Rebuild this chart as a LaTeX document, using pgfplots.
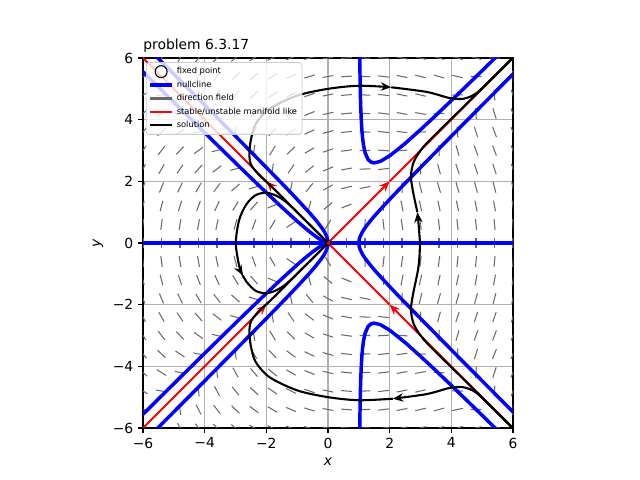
\documentclass[border=0pt]{standalone}
\usepackage{fontspec}
\setmainfont{DejaVu Sans}
\usepackage{pgfplots}
\usepackage{pgfplotstable}
\pgfplotsset{compat=1.18}
\usetikzlibrary{arrows.meta}
\definecolor{fieldgray}{RGB}{105,105,105}
\definecolor{gridgray}{RGB}{176,176,176}
\definecolor{legframe}{RGB}{204,204,204}
\tikzset{tip/.style={-{Stealth[length=7.5pt,width=6pt]}}}

% direction field: grid point (0.6 i, 0.6 j), direction (U,V); rows for j>=0, mirrored for j<0 as (-U,V)
\pgfplotstableread{
i j U V
-10 0 0 -3000
-10 1 -347 -2965
-10 2 -676 -2860
-10 3 -969 -2685
-10 4 -1208 -2440
-10 5 -1375 -2125
-10 6 -1452 -1740
-10 7 -1421 -1285
-10 8 -1264 -760
-10 9 -963 -165
-10 10 -500 500
-9 0 0 -2187
-9 1 -285 -2155
-9 2 -552 -2059
-9 3 -783 -1899
-9 4 -960 -1675
-9 5 -1065 -1387
-9 6 -1080 -1035
-9 7 -987 -619
-9 8 -768 -139
-9 9 -405 405
-9 10 120 1013
-8 0 0 -1536
-8 1 -229 -1507
-8 2 -440 -1420
-8 3 -615 -1275
-8 4 -736 -1072
-8 5 -785 -811
-8 6 -744 -492
-8 7 -595 -115
-8 8 -320 320
-8 9 99 813
-8 10 680 1364
-7 0 0 -1029
-7 1 -179 -1003
-7 2 -340 -925
-7 3 -465 -795
-7 4 -536 -613
-7 5 -535 -379
-7 6 -444 -93
-7 7 -245 245
-7 8 80 635
-7 9 549 1077
-7 10 1180 1571
-6 0 0 -648
-6 1 -135 -625
-6 2 -252 -556
-6 3 -333 -441
-6 4 -360 -280
-6 5 -315 -73
-6 6 -180 180
-6 7 63 479
-6 8 432 824
-6 9 945 1215
-6 10 1620 1652
-5 0 0 -375
-5 1 -97 -355
-5 2 -176 -295
-5 3 -219 -195
-5 4 -208 -55
-5 5 -125 125
-5 6 48 345
-5 7 329 605
-5 8 736 905
-5 9 1287 1245
-5 10 2000 1625
-4 0 0 -192
-4 1 -65 -175
-4 2 -112 -124
-4 3 -123 -39
-4 4 -80 80
-4 5 35 233
-4 6 240 420
-4 7 553 641
-4 8 992 896
-4 9 1575 1185
-4 10 2320 1508
-3 0 0 -81
-3 1 -39 -67
-3 2 -60 -25
-3 3 -45 45
-3 4 24 143
-3 5 165 269
-3 6 396 423
-3 7 735 605
-3 8 1200 815
-3 9 1809 1053
-3 10 2580 1319
-2 0 0 -24
-2 1 -19 -13
-2 2 -20 20
-2 3 15 75
-2 4 104 152
-2 5 265 251
-2 6 516 372
-2 7 875 515
-2 8 1360 680
-2 9 1989 867
-2 10 2780 1076
-1 0 0 -3
-1 1 -5 5
-1 2 8 29
-1 3 57 69
-1 4 160 125
-1 5 335 197
-1 6 600 285
-1 7 973 389
-1 8 1472 509
-1 9 2115 645
-1 10 2920 797
0 1 3 5
0 2 24 20
0 3 81 45
0 4 192 80
0 5 375 125
0 6 648 180
0 7 1029 245
0 8 1536 320
0 9 2187 405
0 10 3000 500
1 0 0 3
1 1 5 5
1 2 28 11
1 3 87 21
1 4 200 35
1 5 385 53
1 6 660 75
1 7 1043 101
1 8 1552 131
1 9 2205 165
1 10 3020 203
2 0 0 24
2 1 1 23
2 2 20 20
2 3 75 15
2 4 184 8
2 5 365 -1
2 6 636 -12
2 7 1015 -25
2 8 1520 -40
2 9 2169 -57
2 10 2980 -76
3 0 0 81
3 1 -9 77
3 2 0 65
3 3 45 45
3 4 144 17
3 5 315 -19
3 6 576 -63
3 7 945 -115
3 8 1440 -175
3 9 2079 -243
3 10 2880 -319
4 0 0 192
4 1 -25 185
4 2 -32 164
4 3 -3 129
4 4 80 80
4 5 235 17
4 6 480 -60
4 7 833 -151
4 8 1312 -256
4 9 1935 -375
4 10 2720 -508
5 0 0 375
5 1 -47 365
5 2 -76 335
5 3 -69 285
5 4 -8 215
5 5 125 125
5 6 348 15
5 7 679 -115
5 8 1136 -265
5 9 1737 -435
5 10 2500 -625
6 0 0 648
6 1 -75 635
6 2 -132 596
6 3 -153 531
6 4 -120 440
6 5 -15 323
6 6 180 180
6 7 483 11
6 8 912 -184
6 9 1485 -405
6 10 2220 -652
7 0 0 1029
7 1 -109 1013
7 2 -200 965
7 3 -255 885
7 4 -256 773
7 5 -185 629
7 6 -24 453
7 7 245 245
7 8 640 5
7 9 1179 -267
7 10 1880 -571
8 0 0 1536
8 1 -149 1517
8 2 -280 1460
8 3 -375 1365
8 4 -416 1232
8 5 -385 1061
8 6 -264 852
8 7 -35 605
8 8 320 320
8 9 819 -3
8 10 1480 -364
9 0 0 2187
9 1 -195 2165
9 2 -372 2099
9 3 -513 1989
9 4 -600 1835
9 5 -615 1637
9 6 -540 1395
9 7 -357 1109
9 8 -48 779
9 9 405 405
9 10 1020 -13
10 0 0 3000
10 1 -247 2975
10 2 -476 2900
10 3 -669 2775
10 4 -808 2600
10 5 -875 2375
10 6 -852 2100
10 7 -721 1775
10 8 -464 1400
10 9 -63 975
10 10 500 500
}\field

\begin{document}
\begin{tikzpicture}
\path[use as bounding box] (0,0) rectangle (460.8pt,345.6pt);
\begin{axis}[
  at={(102.96pt,37.44pt)}, anchor=south west,
  scale only axis, width=266.4pt, height=266.4pt,
  xmin=-6, xmax=6, ymin=-6, ymax=6,
  xtick={-6,-4,-2,0,2,4,6}, ytick={-6,-4,-2,0,2,4,6},
  xticklabels={−6,−4,−2,0,2,4,6}, yticklabels={−6,−4,−2,0,2,4,6},
  tick pos=left, tick align=outside, major tick length=3.5pt,
  every tick/.style={black, line width=0.8pt},
  axis line style={line width=0.8pt},
  grid=major, major grid style={gridgray, line width=0.8pt},
  tick label style={font=\fontsize{10}{12}\selectfont},
  label style={font=\fontsize{10}{12}\selectfont},
  xlabel={\textit{x}}, ylabel={\textit{y}},
  title={problem 6.3.17},
  title style={at={(0,1)}, anchor=base west, inner sep=0pt, yshift=0pt, font=\fontsize{10}{12}\selectfont},
  legend cell align=left,
  legend style={at={(0,1)}, anchor=north west, xshift=2pt, yshift=-3pt,
    font=\fontsize{6}{6.5}\selectfont, draw=legframe, line width=0.6pt,
    fill=white, fill opacity=0.8, text opacity=1, rounded corners=2pt,
    inner sep=1.5pt, row sep=-0.4pt},
]
\addlegendimage{legend image code/.code={\draw[black, line width=0.8pt] (8pt,0pt) circle (4.3pt);}}
\addlegendentry{fixed point}
\addlegendimage{legend image code/.code={\draw[blue, line width=2.5pt] (0pt,0pt) -- (16pt,0pt);}}
\addlegendentry{nullcline}
\addlegendimage{legend image code/.code={\draw[fieldgray, line width=1.5pt] (0pt,0pt) -- (16pt,0pt);}}
\addlegendentry{direction field}
\addlegendimage{legend image code/.code={\draw[red, line width=1.5pt] (0pt,0pt) -- (16pt,0pt);}}
\addlegendentry{stable/unstable manifold like}
\addlegendimage{legend image code/.code={\draw[black, line width=1.5pt] (0pt,0pt) -- (16pt,0pt);}}
\addlegendentry{solution}

% direction field
\addplot[fieldgray, line width=0.75pt, forget plot,
  quiver={u={0.35*\thisrow{U}/sqrt(\thisrow{U}*\thisrow{U}+\thisrow{V}*\thisrow{V})},
          v={0.35*\thisrow{V}/sqrt(\thisrow{U}*\thisrow{U}+\thisrow{V}*\thisrow{V})}}]
  table[x expr={0.6*\thisrow{i}-0.175*\thisrow{U}/sqrt(\thisrow{U}*\thisrow{U}+\thisrow{V}*\thisrow{V})},
        y expr={0.6*\thisrow{j}-0.175*\thisrow{V}/sqrt(\thisrow{U}*\thisrow{U}+\thisrow{V}*\thisrow{V})}] {\field};
\addplot[fieldgray, line width=0.75pt, forget plot,
  quiver={u={-0.35*\thisrow{U}/sqrt(\thisrow{U}*\thisrow{U}+\thisrow{V}*\thisrow{V})},
          v={0.35*\thisrow{V}/sqrt(\thisrow{U}*\thisrow{U}+\thisrow{V}*\thisrow{V})}}]
  table[x expr={0.6*\thisrow{i}+0.175*\thisrow{U}/sqrt(\thisrow{U}*\thisrow{U}+\thisrow{V}*\thisrow{V})},
        y expr={-0.6*\thisrow{j}-0.175*\thisrow{V}/sqrt(\thisrow{U}*\thisrow{U}+\thisrow{V}*\thisrow{V})}] {\field};

% nullclines
\addplot[blue, line width=2.5pt, forget plot] coordinates {(-6.2,0) (6.2,0)};
\addplot[blue, line width=2.5pt, forget plot, smooth] coordinates {
(-6.0192,-6.5) (-5.5208,-6) (-4.5249,-5) (-3.5311,-4) (-2.5414,-3) (-1.5616,-2) (-1.0811,-1.5) (-0.6180,-1) (-0.4014,-0.75) (-0.2071,-0.5) (-0.1103,-0.35) (-0.0385,-0.2) (-0.0099,-0.1) (0,0)
(-0.0099,0.1) (-0.0385,0.2) (-0.1103,0.35) (-0.2071,0.5) (-0.4014,0.75) (-0.6180,1) (-1.0811,1.5) (-1.5616,2) (-2.5414,3) (-3.5311,4) (-4.5249,5) (-5.5208,6) (-6.0192,6.5)};
\addplot[blue, line width=2.5pt, forget plot, smooth] coordinates {
(6.0227,-5.5) (5.5249,-5) (4.5311,-4) (3.5414,-3) (2.5616,-2) (2.0811,-1.5) (1.6180,-1) (1.4014,-0.75) (1.2071,-0.5) (1.1103,-0.35) (1.0385,-0.2) (1.0099,-0.1) (1,0)
(1.0099,0.1) (1.0385,0.2) (1.1103,0.35) (1.2071,0.5) (1.4014,0.75) (1.6180,1) (2.0811,1.5) (2.5616,2) (3.5414,3) (4.5311,4) (5.5249,5) (6.0227,5.5)};
\addplot[blue, line width=2.5pt, forget plot] coordinates {
(-6.2,-5.753) (-6,-5.5549) (-5,-4.5644) (-4,-3.5777) (-3,-2.5981) (-2.5,-2.1129) (-2,-1.6330) (-1.5,-1.1619) (-1,-0.7071) (-0.75,-0.4910) (-0.5,-0.2887) (-0.3,-0.1441) (-0.2,-0.0816) (-0.1,-0.0302) (0,0)
(-0.1,0.0302) (-0.2,0.0816) (-0.3,0.1441) (-0.5,0.2887) (-0.75,0.4910) (-1,0.7071) (-1.5,1.1619) (-2,1.6330) (-2.5,2.1129) (-3,2.5981) (-4,3.5777) (-5,4.5644) (-6,5.5549) (-6.2,5.753)};
\addplot[blue, line width=2.5pt, forget plot] coordinates {
(1.025,6.56) (1.03,6.035) (1.04,5.303) (1.05,4.812) (1.06,4.455) (1.08,3.968) (1.1,3.648) (1.12,3.422) (1.15,3.184) (1.2,2.939) (1.3,2.706) (1.4,2.619) (1.5,2.598) (1.7,2.649) (2,2.828) (2.5,3.227) (3,3.674) (3.5,4.141) (4,4.619) (4.5,5.103) (5,5.590) (5.5,6.08)};
\addplot[blue, line width=2.5pt, forget plot] coordinates {
(1.025,-6.56) (1.03,-6.035) (1.04,-5.303) (1.05,-4.812) (1.06,-4.455) (1.08,-3.968) (1.1,-3.648) (1.12,-3.422) (1.15,-3.184) (1.2,-2.939) (1.3,-2.706) (1.4,-2.619) (1.5,-2.598) (1.7,-2.649) (2,-2.828) (2.5,-3.227) (3,-3.674) (3.5,-4.141) (4,-4.619) (4.5,-5.103) (5,-5.590) (5.5,-6.08)};

% manifold-like lines
\addplot[red, line width=1.5pt, forget plot, tip] coordinates {(-6.1,-6.1) (-2,-2)};
\addplot[red, line width=1.5pt, forget plot, tip] coordinates {(-2,-2) (2,2)};
\addplot[red, line width=1.5pt, forget plot] coordinates {(2,2) (6.1,6.1)};
\addplot[red, line width=1.5pt, forget plot, tip] coordinates {(6.1,-6.1) (2,-2)};
\addplot[red, line width=1.5pt, forget plot, tip] coordinates {(2,-2) (-2,2)};
\addplot[red, line width=1.5pt, forget plot] coordinates {(-2,2) (-6.1,6.1)};

% solutions
\addplot[black, line width=1.5pt, forget plot, smooth, tip] coordinates {
(-0.03,0.03) (-0.6,0.6) (-1.2,1.2) (-1.8,1.8) (-2.25,2.22) (-2.5,2.55) (-2.55,2.9) (-2.5,3.35) (-2.35,3.85) (-1.9,4.35) (-1.0,4.78) (0,5.0) (1,5.1) (2.05,5.05)};
\addplot[black, line width=1.5pt, forget plot, smooth] coordinates {
(2.05,5.05) (3.2,4.9) (3.95,4.7) (4.4,4.68) (4.8,4.85) (5.3,5.32) (6.1,6.12)};
\addplot[black, line width=1.5pt, forget plot, smooth, tip] coordinates {
(-0.03,0.03) (-0.7,0.7) (-1.3,1.28) (-1.65,1.52) (-2.0,1.63) (-2.35,1.55) (-2.65,1.25) (-2.88,0.75) (-2.99,0) (-2.88,-0.75) (-2.76,-1.05)};
\addplot[black, line width=1.5pt, forget plot, smooth] coordinates {
(-2.76,-1.05) (-2.65,-1.25) (-2.35,-1.55) (-2.0,-1.63) (-1.65,-1.52) (-1.3,-1.28) (-0.7,-0.7) (-0.03,-0.03)};
\addplot[black, line width=1.5pt, forget plot, smooth, tip] coordinates {
(6.1,-6.12) (5.3,-5.32) (4.8,-4.85) (4.4,-4.68) (3.95,-4.7) (3.2,-4.9) (2.1,-5.05)};
\addplot[black, line width=1.5pt, forget plot, smooth] coordinates {
(2.1,-5.05) (1,-5.1) (0,-5.0) (-1.0,-4.78) (-1.9,-4.35) (-2.35,-3.85) (-2.5,-3.35) (-2.55,-2.9) (-2.5,-2.55) (-2.25,-2.22) (-1.8,-1.8) (-1.2,-1.2) (-0.6,-0.6) (-0.03,-0.03)};
\addplot[black, line width=1.5pt, forget plot, smooth, tip] coordinates {
(6.1,-6.1) (4.5,-4.52) (3.31,-3.35) (2.98,-2.97) (2.77,-2.6) (2.69,-2.15) (2.77,-1.6) (2.93,-0.8) (2.98,0) (2.9,1.0)};
\addplot[black, line width=1.5pt, forget plot, smooth] coordinates {
(2.9,1.0) (2.77,1.6) (2.69,2.15) (2.77,2.6) (2.98,2.97) (3.31,3.35) (4.5,4.52) (6.1,6.1)};

% fixed point
\addplot[only marks, mark=o, mark size=2pt, black, line width=0.6pt, forget plot] coordinates {(0,0)};
\end{axis}
\end{tikzpicture}
\end{document}
